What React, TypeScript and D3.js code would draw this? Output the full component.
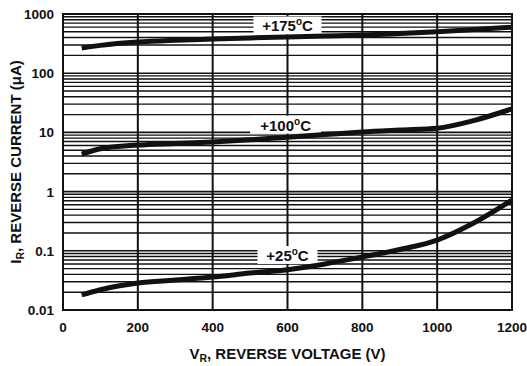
import React from "react";
import * as d3 from "d3";

const voltage = [50, 100, 200, 300, 400, 500, 600, 700, 800, 900, 1000, 1100, 1200];
const current175 = [267, 295, 336, 360, 378, 395, 409, 425, 441, 468, 500, 545, 600];
const current100 = [4.3, 5.3, 6.1, 6.5, 6.9, 7.5, 8.3, 9.2, 10.2, 11.0, 11.8, 16.0, 25];
const current25 = [0.018, 0.022, 0.0286, 0.032, 0.036, 0.042, 0.048, 0.060, 0.0785, 0.105, 0.152, 0.30, 0.72];

const xTicks = [0, 200, 400, 600, 800, 1000, 1200];
const yTicks = [0.01, 0.1, 1, 10, 100, 1000];
const yTickLabels = ["0.01", "0.1", "1", "10", "100", "1000"];

// label centre (voltage, current) and white box width in px
const labels = [
  { text: "+175", v: 600, i: 640, w: 68 },
  { text: "+100", v: 595, i: 13.5, w: 71 },
  { text: "+25", v: 600, i: 0.085, w: 60 },
];

const W = 527;
const H = 366;
const margin = { top: 14, right: 15, bottom: 56, left: 63 };
const font = "'Liberation Sans', Arial, Helvetica, sans-serif";

export default function App() {
  const x = d3.scaleLinear().domain([0, 1200]).range([margin.left, W - margin.right]);
  const y = d3.scaleLog().domain([0.01, 1000]).range([H - margin.bottom, margin.top]);

  const minor: number[] = [];
  for (let d = 0.01; d < 1000; d *= 10) {
    for (let k = 2; k <= 9; k++) minor.push(d * k);
  }

  const line = d3
    .line<[number, number]>()
    .x((d) => x(d[0]))
    .y((d) => y(d[1]))
    .curve(d3.curveMonotoneX);

  const series = [current175, current100, current25];

  return (
    <svg width={W} height={H} style={{ position: "absolute", left: 0, top: 0, background: "#fff" }}>
      <g stroke="#111">
        {minor.map((v, i) => (
          <line key={"m" + i} x1={x(0)} x2={x(1200)} y1={y(v)} y2={y(v)} strokeWidth={1.4} />
        ))}
        {yTicks.map((v, i) => (
          <line key={"M" + i} x1={x(0)} x2={x(1200)} y1={y(v)} y2={y(v)} strokeWidth={1.6} />
        ))}
        {xTicks.map((v, i) => (
          <line key={"v" + i} x1={x(v)} x2={x(v)} y1={y(1000)} y2={y(0.01)} strokeWidth={2} />
        ))}
      </g>
      <rect
        x={x(0)}
        y={y(1000)}
        width={x(1200) - x(0)}
        height={y(0.01) - y(1000)}
        fill="none"
        stroke="#111"
        strokeWidth={2}
      />
      {labels.map((l, i) => (
        <rect key={"b" + i} x={x(l.v) - l.w / 2} y={y(l.i) - 9} width={l.w} height={18} fill="#fff" />
      ))}
      {series.map((s, i) => (
        <path
          key={"s" + i}
          d={line(voltage.map((v, j) => [v, s[j]]) as [number, number][]) || ""}
          fill="none"
          stroke="#111"
          strokeWidth={5}
        />
      ))}
      {labels.map((l, i) => (
        <text
          key={"t" + i}
          x={x(l.v)}
          y={y(l.i) + 6}
          textAnchor="middle"
          fontFamily={font}
          fontWeight="bold"
          fontSize={15}
          fill="#111"
        >
          {l.text}
          <tspan fontSize={10} dy={-6}>o</tspan>
          <tspan dy={6}>C</tspan>
        </text>
      ))}
      {yTicks.map((v, i) => (
        <text
          key={"yt" + i}
          x={x(0) - 9}
          y={y(v) + 5}
          textAnchor="end"
          fontFamily={font}
          fontWeight="bold"
          fontSize={13.5}
          fill="#111"
        >
          {yTickLabels[i]}
        </text>
      ))}
      {xTicks.map((v, i) => (
        <text
          key={"xt" + i}
          x={x(v)}
          y={y(0.01) + 22}
          textAnchor="middle"
          fontFamily={font}
          fontWeight="bold"
          fontSize={13.5}
          fill="#111"
        >
          {v}
        </text>
      ))}
      <text
        x={(x(0) + x(1200)) / 2}
        y={H - 7}
        textAnchor="middle"
        fontFamily={font}
        fontWeight="bold"
        fontSize={15}
        fill="#111"
      >
        V<tspan fontSize={10.5} dy={3}>R</tspan>
        <tspan dy={-3}>, REVERSE VOLTAGE (V)</tspan>
      </text>
      <text
        transform={`translate(21, ${(y(1000) + y(0.01)) / 2}) rotate(-90)`}
        textAnchor="middle"
        fontFamily={font}
        fontWeight="bold"
        fontSize={15}
        fill="#111"
      >
        I<tspan fontSize={10.5} dy={3}>R</tspan>
        <tspan dy={-3}>, REVERSE CURRENT (μA)</tspan>
      </text>
    </svg>
  );
}
